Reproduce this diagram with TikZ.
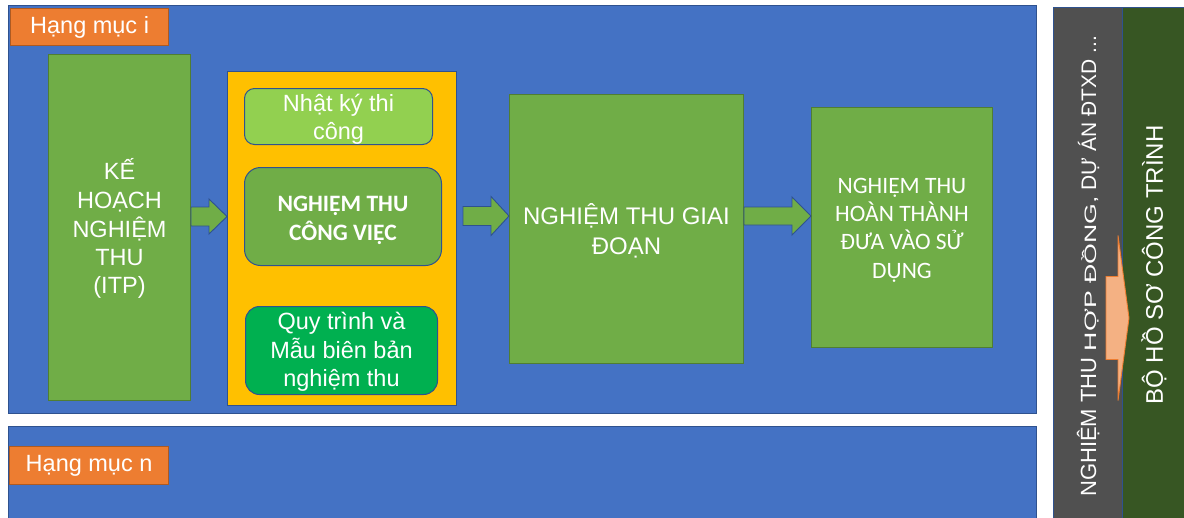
\documentclass[tikz,border=0pt]{standalone}
\usepackage{fontspec}
\setmainfont{Liberation Sans}
\newfontfamily\calibri{Carlito}
\usetikzlibrary{calc}

\definecolor{panelblue}{HTML}{4472C4}
\definecolor{panelline}{HTML}{2F528F}
\definecolor{tagorange}{HTML}{ED7D31}
\definecolor{tagline}{HTML}{AE5A21}
\definecolor{stepgreen}{HTML}{70AD47}
\definecolor{stepline}{HTML}{507E32}
\definecolor{lightgreen}{HTML}{92D050}
\definecolor{brightgreen}{HTML}{00B050}
\definecolor{gold}{HTML}{FFC000}
\definecolor{sidegray}{HTML}{505050}
\definecolor{sidegreen}{HTML}{375623}
\definecolor{salmon}{HTML}{F4B183}

\newcommand\fsz[2]{\fontsize{#1}{#2}\selectfont}
% centred lines, lowered a little inside their box (reported size unchanged)
\newcommand\stack[2]{\raisebox{-#1}[\height][\depth]{\begin{tabular}{@{}c@{}}#2\end{tabular}}}

% block arrow from #2 to #3 (same height): half shaft #4, half head #5, head length #6
\newcommand\blockarrow[6]{%
  \draw[#1] let \p1=(#2), \p2=(#3) in
    (\x1,\y1+#4) -- (\x2-#6,\y1+#4) -- (\x2-#6,\y1+#5) -- (\x2,\y1)
    -- (\x2-#6,\y1-#5) -- (\x2-#6,\y1-#4) -- (\x1,\y1-#4) -- cycle;}

\tikzset{
  panel/.style={draw=panelline, line width=1.2pt, fill=panelblue,
    anchor=north west, inner sep=0pt},
  tag/.style={draw=tagline, line width=1.2pt, fill=tagorange, text=white,
    font=\fsz{23.5}{28}, anchor=north west, inner sep=0pt},
  stepbox/.style={draw=stepline, line width=1pt, fill=stepgreen, text=white,
    anchor=north west, inner sep=0pt},
  subbox/.style={draw=panelline, line width=1pt, text=white,
    anchor=north west, inner sep=0pt},
  sidecol/.style={draw=panelline, line width=0.6pt, anchor=north west, inner sep=0pt},
  greenarrow/.style={draw=panelline, line width=0.9pt, fill=stepgreen},
  salmonarrow/.style={draw=tagorange, line width=0.9pt, fill=salmon},
  sidetext/.style={rotate=90, text=white, inner sep=0pt},
}

\begin{document}
\begin{tikzpicture}[x=1pt, y=-1pt]
\useasboundingbox (0,0) rectangle (1184,517);
\clip (0,0) rectangle (1184,517);

% item panels
\node[panel, minimum width=1028, minimum height=408] (itemi) at (8,5) {};
\node[panel, minimum width=1028, minimum height=110] (itemn) at (8,426) {};
\node[tag, minimum width=158, minimum height=37] (tagi) at (10,8) {Hạng mục i};
\node[tag, minimum width=159, minimum height=38] (tagn) at (9,446) {Hạng mục n};

% acceptance plan
\node[stepbox, minimum width=142, minimum height=346, font=\fsz{23.5}{28.3}] (itp) at (48,54)
  {\stack{3pt}{KẾ\\HOẠCH\\NGHIỆM\\THU\\(ITP)}};

% work acceptance group
\node[subbox, fill=gold, minimum width=229, minimum height=334] (gold) at (227,71) {};
\node[subbox, fill=lightgreen, rounded corners=10pt, minimum width=188, minimum height=56,
  font=\fsz{23.5}{28}] (diary) at (244,88) {\stack{3pt}{Nhật ký thi\\công}};
\node[subbox, fill=stepgreen, rounded corners=16pt, minimum width=197, minimum height=98,
  font=\calibri\bfseries\fsz{23.5}{29}] (work) at (244,167) {\stack{3.5pt}{NGHIỆM THU\\CÔNG VIỆC}};
\node[subbox, fill=brightgreen, rounded corners=14pt, minimum width=192, minimum height=88,
  font=\fsz{23.5}{28}] (forms) at (245,306) {\stack{2pt}{Quy trình và\\Mẫu biên bản\\nghiệm thu}};

% stage and completion
\node[stepbox, minimum width=234, minimum height=269, font=\fsz{24}{30}] (stage) at (509,94)
  {\stack{4pt}{NGHIỆM THU GIAI\\ĐOẠN}};
\node[stepbox, minimum width=181, minimum height=240, font=\calibri\fsz{23.5}{28.3}] (final) at (811,107)
  {\stack{2.5pt}{NGHIỆM THU\\HOÀN THÀNH\\ĐƯA VÀO SỬ\\DỤNG}};

% flow arrows
\coordinate (a1s) at (itp.east |- 0,216.5);
\blockarrow{greenarrow}{a1s}{gold.west |- a1s}{9.5pt}{17.5pt}{18pt}
\coordinate (a2s) at (463,216);
\blockarrow{greenarrow}{a2s}{stage.west |- a2s}{9.5pt}{19.5pt}{18pt}
\coordinate (a3s) at (stage.east |- 0,216);
\blockarrow{greenarrow}{a3s}{final.west |- a3s}{9pt}{19pt}{19pt}

% side columns
\node[sidecol, fill=sidegray, minimum width=69, minimum height=530] (contract) at (1053,7) {};
\node[sidecol, fill=sidegreen, minimum width=80, minimum height=530] (dossierbg) at (1122,7) {};
\coordinate (s1) at (1106,318);
\coordinate (s2) at (1129,318);
\blockarrow{salmonarrow}{s1}{s2}{41.5pt}{82.5pt}{11pt}

\node[sidetext, anchor=base west, font=\fsz{22}{26}] (acc1) at (1096,497) {NGHIỆM THU};
\node[sidetext, anchor=base west, font=\fsz{16.5}{20}] (acc2) at (acc1.base east)
  {\hspace{6pt}\scalebox{1.62}[1]{HỢP ĐỒNG,}};
\node[sidetext, anchor=base west, font=\fsz{21}{25}] (acc3) at (acc2.base east)
  {\hspace{5pt}DỰ ÁN ĐTXD ...};
\node[sidetext, font=\fsz{24}{28}] (dossier) at (1154,265) {BỘ HỒ SƠ CÔNG TRÌNH};
\end{tikzpicture}
\end{document}
